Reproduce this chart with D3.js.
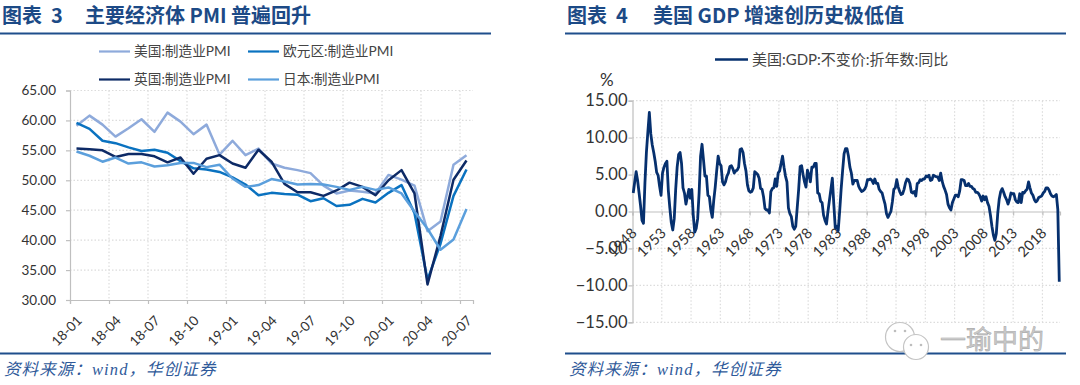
<!DOCTYPE html>
<html>
<head>
<meta charset="utf-8">
<script src="https://cdn.jsdelivr.net/npm/d3@7"></script>
<style>
  html, body { margin: 0; padding: 0; background: #fff; }
  svg { display: block; }
  text { font-family: "Lato", "Noto Sans CJK SC", sans-serif; fill: #333; }
  .title { font-family: "Noto Sans CJK SC", sans-serif; font-size: 20px; font-weight: 700; fill: #1c4a86; white-space: pre; }
  .source { font-family: "Liberation Serif", "Noto Sans CJK SC", serif; font-size: 16.5px; font-style: italic; fill: #2f5a9a; letter-spacing: 1.1px; }
  .legend { font-size: 13.7px; fill: #444; }
  .legend-large { font-size: 15px; fill: #444; }
  .axis path, .axis line { stroke: #bfbfbf; stroke-width: 1.2; }
  .pmi-axis text { font-size: 13.5px; fill: #333; }
  .gdp-axis text { font-size: 14.5px; fill: #333; }
  .gdp-y text { font-size: 16.5px; fill: #333; }
  .grid line { stroke: #dcdcdc; stroke-width: 1.2; stroke-dasharray: 1.5 2; }
  .rule { stroke: #1f4e8c; stroke-width: 2; }
  .mark { fill: #c9c9c9; stroke: #9c9c9c; stroke-width: 0.4; font-family: "Noto Sans CJK SC", sans-serif; font-size: 26px; }
</style>
</head>
<body>
<svg id="chart" width="1080" height="385"></svg>
<script>
const months = [
  "18-01", "18-02", "18-03", "18-04", "18-05", "18-06", "18-07", "18-08", "18-09", "18-10", "18-11", "18-12",
  "19-01", "19-02", "19-03", "19-04", "19-05", "19-06", "19-07", "19-08", "19-09", "19-10", "19-11", "19-12",
  "20-01", "20-02", "20-03", "20-04", "20-05", "20-06", "20-07"
];
const usPmi = [59.1, 60.8, 59.3, 57.3, 58.7, 60.2, 58.1, 61.3, 59.8, 57.7, 59.3, 54.3, 56.6, 54.2, 55.3, 52.8, 52.1, 51.7, 51.2, 49.1, 47.8, 48.3, 48.1, 47.8, 50.9, 50.1, 49.1, 41.5, 43.1, 52.6, 54.2];
const euroPmi = [59.6, 58.6, 56.6, 56.2, 55.5, 54.9, 55.1, 54.6, 53.2, 52.0, 51.8, 51.4, 50.5, 49.3, 47.5, 47.9, 47.7, 47.6, 46.5, 47.0, 45.7, 45.9, 46.9, 46.3, 47.9, 49.2, 44.5, 33.4, 39.4, 47.4, 51.8];
const ukPmi = [55.3, 55.2, 55.0, 53.9, 54.4, 54.4, 54.0, 53.0, 53.8, 51.1, 53.6, 54.2, 52.8, 52.1, 55.1, 53.1, 49.4, 48.0, 48.0, 47.4, 48.3, 49.6, 48.9, 47.5, 50.0, 51.7, 47.8, 32.6, 40.7, 50.1, 53.3];
const japanPmi = [54.8, 54.1, 53.1, 53.8, 52.8, 53.0, 52.3, 52.5, 52.9, 52.9, 52.2, 52.6, 50.3, 48.9, 49.2, 50.2, 49.8, 49.3, 49.4, 49.3, 48.9, 48.4, 48.9, 48.4, 48.8, 47.8, 44.8, 41.9, 38.4, 40.1, 45.2];
const pmiTicks = [30, 35, 40, 45, 50, 55, 60, 65];

const gdpStartYear = 1948;
const gdpYears = ["1948", "1953", "1958", "1963", "1968", "1973", "1978", "1983", "1988", "1993", "1998", "2003", "2008", "2013", "2018"];
const gdpTicks = [-15, -10, -5, 0, 5, 10, 15];
// quarterly, 1948Q1 to 2020Q2
const gdpYoY = [
  2.5, 4.0, 5.4, 4.2, 2.5, 0.8, -1.2, -1.6, 3.9, 8.0, 10.8, 13.4,
  10.5, 9.0, 8.0, 6.8, 5.3, 4.9, 3.4, 2.2, 5.2, 6.0, 6.5, 6.8,
  2.8, 0.5, -1.5, -2.5, -1.0, 3.0, 6.0, 7.7, 8.0, 6.5, 3.2, 2.5,
  1.0, 2.0, 3.0, 1.8, 3.0, -0.5, -2.8, -2.3, -1.0, 2.5, 7.5, 9.1,
  7.0, 4.8, 4.8, 2.2, 2.0, 0.2, -0.8, 1.5, 3.3, 5.5, 7.5, 6.5,
  6.2, 4.0, 3.6, 4.0, 4.8, 5.2, 6.1, 6.2, 5.8, 5.2, 5.5, 5.6,
  6.0, 8.4, 8.5, 8.0, 6.5, 5.5, 3.6, 2.8, 2.6, 2.7, 3.2, 5.4,
  5.2, 5.0, 4.5, 3.1, 3.0, 2.0, 0.4, 0.2, 0.2, -0.2, 2.7, 3.1,
  3.2, 4.4, 3.4, 5.2, 5.5, 6.5, 7.5, 6.0, 4.8, 4.0, 0.5, -0.3,
  -0.7, -2.0, -2.4, -2.0, 0.5, 3.0, 6.1, 6.2, 5.0, 4.0, 3.3, 5.6,
  5.0, 4.0, 6.0, 6.0, 6.5, 6.5, 2.5, 2.4, 1.4, 1.2, -0.5, -1.2,
  -1.7, 0.0, 1.5, 3.0, 4.5, 1.0, -2.2, -2.0, -2.6, 0.0, 3.0, 5.5,
  7.8, 8.5, 8.5, 7.5, 6.0, 5.2, 3.7, 4.2, 4.2, 4.2, 3.4, 3.0,
  2.7, 2.8, 3.0, 3.4, 4.3, 4.3, 4.4, 4.2, 3.8, 4.4, 3.8, 3.8,
  3.0, 2.7, 2.5, 1.7, 1.0, -0.3, -0.8, -0.4, 0.0, 1.3, 3.0, 3.2,
  4.3, 3.3, 2.7, 2.3, 2.4, 3.0, 3.9, 4.4, 4.3, 3.8, 2.6, 2.5,
  2.7, 2.1, 3.8, 3.9, 4.3, 4.2, 4.4, 4.4, 4.8, 4.7, 4.9, 4.2,
  4.3, 4.9, 4.8, 4.7, 4.7, 4.2, 5.2, 4.1, 3.4, 2.9, 2.3, 1.0,
  0.5, 0.2, 1.2, 1.7, 2.2, 2.2, 2.0, 2.8, 4.3, 4.3, 4.2, 3.5,
  3.5, 3.8, 3.4, 3.4, 3.1, 3.0, 2.6, 2.6, 2.4, 2.0, 1.4, 2.1,
  1.6, 2.0, 1.2, 0.7, -0.5, -2.0, -3.2, -3.9, -3.0, -0.2, 1.7, 2.7,
  3.1, 2.6, 2.0, 1.6, 1.0, 1.6, 2.5, 2.4, 2.4, 1.6, 1.3, 1.2,
  2.4, 1.2, 2.6, 2.5, 2.8, 3.0, 4.0, 3.2, 2.5, 2.2, 1.6, 1.3,
  1.5, 1.9, 2.0, 2.1, 2.5, 2.7, 3.2, 3.2, 2.9, 2.4, 2.1, 2.0,
  2.1, 2.3, 0.3, -9.5
];

const svg = d3.select("#chart");

function slantLabels(sel, dx, dy) {
  sel.selectAll("text")
    .attr("x", 0).attr("y", 0).attr("dy", "0.35em")
    .attr("text-anchor", "end")
    .attr("transform", `translate(${dx},${dy}) rotate(-45)`);
}

function pmiChart() {
  const left = 70, right = 473, top = 90.5, bottom = 300;
  const x = d3.scaleLinear().domain([0, months.length]).range([left, right]);
  const y = d3.scaleLinear().domain([30, 65]).range([bottom, top]);
  const xTicks = d3.range(0, months.length, 3);

  const grid = svg.append("g").attr("class", "grid");
  grid.selectAll(".h").data(pmiTicks.slice(1)).join("line").attr("class", "h")
    .attr("x1", left).attr("x2", right).attr("y1", d => y(d)).attr("y2", d => y(d));
  grid.selectAll(".v").data(xTicks.slice(1)).join("line").attr("class", "v")
    .attr("x1", d => x(d)).attr("x2", d => x(d)).attr("y1", top).attr("y2", bottom);

  svg.append("g").attr("class", "axis pmi-axis")
    .attr("transform", `translate(0,${bottom})`)
    .call(d3.axisBottom(x).tickValues(xTicks).tickSizeOuter(0).tickSize(4).tickFormat(i => months[i]))
    .call(slantLabels, 9, 18);

  svg.append("g").attr("class", "axis pmi-axis")
    .attr("transform", `translate(${left},0)`)
    .call(d3.axisLeft(y).tickValues(pmiTicks).tickSizeOuter(0).tickSize(4).tickPadding(10).tickFormat(d3.format(".2f")));

  const line = d3.line().x((d, i) => x(i + 0.5)).y(d => y(d));
  const series = [
    { name: "美国:制造业PMI", values: usPmi, color: "#8eaadb" },
    { name: "欧元区:制造业PMI", values: euroPmi, color: "#0a72c0" },
    { name: "英国:制造业PMI", values: ukPmi, color: "#0d2a66" },
    { name: "日本:制造业PMI", values: japanPmi, color: "#5b9fdc" }
  ];
  svg.append("g").selectAll("path").data(series).join("path")
    .attr("d", d => line(d.values))
    .attr("fill", "none").attr("stroke", d => d.color)
    .attr("stroke-width", 2.5).attr("stroke-linejoin", "round");

  const legend = svg.append("g").selectAll("g").data(series).join("g")
    .attr("transform", (d, i) => `translate(${i % 2 ? 248 : 99},${i < 2 ? 51.5 : 79.5})`);
  legend.append("line").attr("x2", 31).attr("stroke", d => d.color).attr("stroke-width", 2.2);
  legend.append("text").attr("class", "legend").attr("x", 35).attr("dy", "0.36em").text(d => d.name);
}

function gdpChart() {
  const left = 632.5, right = 1060, top = 100.7, bottom = 322.3;
  const x = d3.scaleLinear().domain([gdpStartYear, gdpStartYear + gdpYoY.length / 4]).range([left, right]);
  const y = d3.scaleLinear().domain([-15, 15]).range([bottom, top]);

  const grid = svg.append("g").attr("class", "grid");
  grid.selectAll(".h").data(gdpTicks.filter(d => d !== 0)).join("line").attr("class", "h")
    .attr("x1", left).attr("x2", right).attr("y1", d => y(d)).attr("y2", d => y(d));
  grid.selectAll(".v").data(gdpYears.slice(1)).join("line").attr("class", "v")
    .attr("x1", d => x(+d)).attr("x2", d => x(+d)).attr("y1", top).attr("y2", bottom);

  svg.append("g").attr("class", "axis gdp-y")
    .attr("transform", `translate(${left},0)`)
    .call(d3.axisLeft(y).tickValues(gdpTicks).tickSizeOuter(0).tickSize(4).tickPadding(1).tickFormat(d3.format(".2f")));

  svg.append("g").attr("class", "axis gdp-axis")
    .attr("transform", `translate(0,${y(0)})`)
    .call(d3.axisBottom(x).tickValues(gdpYears.map(Number)).tickSizeOuter(0).tickSize(4).tickFormat(d3.format("d")))
    .call(slantLabels, 1, 19);

  const line = d3.line().x((d, i) => x(gdpStartYear + (i + 0.5) / 4)).y(d => y(d));
  svg.append("path").datum(gdpYoY)
    .attr("d", line).attr("fill", "none").attr("stroke", "#06306e")
    .attr("stroke-width", 2.8).attr("stroke-linejoin", "round");

  svg.append("line").attr("x1", 715).attr("x2", 748).attr("y1", 59.5).attr("y2", 59.5)
    .attr("stroke", "#06306e").attr("stroke-width", 2.6);
  svg.append("text").attr("class", "legend-large").attr("x", 752).attr("y", 59.5).attr("dy", "0.36em")
    .text("美国:GDP:不变价:折年数:同比");
  svg.append("text").attr("x", 600).attr("y", 86).attr("font-size", 17).text("%");
}

function frame() {
  const panels = [
    { label: "图表  3", title: "主要经济体 PMI 普遍回升", tx: 2, hx: 85, x1: 0, x2: 491 },
    { label: "图表  4", title: "美国 GDP 增速创历史极低值", tx: 567, hx: 653, x1: 565, x2: 1066 }
  ];
  panels.forEach(p => {
    svg.append("text").attr("class", "title").attr("x", p.tx).attr("y", 23).text(p.label);
    svg.append("text").attr("class", "title").attr("x", p.hx).attr("y", 23).text(p.title);
    svg.append("line").attr("class", "rule").attr("x1", p.x1).attr("x2", p.x2).attr("y1", 33.5).attr("y2", 33.5);
    svg.append("line").attr("class", "rule").attr("x1", p.x1).attr("x2", p.x2).attr("y1", 353.5).attr("y2", 353.5);
    svg.append("text").attr("class", "source").attr("x", p.tx + 2).attr("y", 375).text("资料来源：wind，华创证券");
  });

  // watermark
  const mark = svg.append("g");
  [[900, 337, 14.5], [916, 347, 12.5]].forEach(c => {
    mark.append("circle").attr("cx", c[0]).attr("cy", c[1]).attr("r", c[2])
      .attr("fill", "#fff").attr("stroke", "#c4c4c4").attr("stroke-width", 1.2);
  });
  [[895, 331], [905, 331], [911, 345], [921, 345]].forEach(c => {
    mark.append("circle").attr("cx", c[0]).attr("cy", c[1]).attr("r", 1.3).attr("fill", "#bdbdbd");
  });
  mark.append("text").attr("class", "mark").attr("x", 940).attr("y", 349).text("一瑜中的");
}

pmiChart();
gdpChart();
frame();
</script>
</body>
</html>
